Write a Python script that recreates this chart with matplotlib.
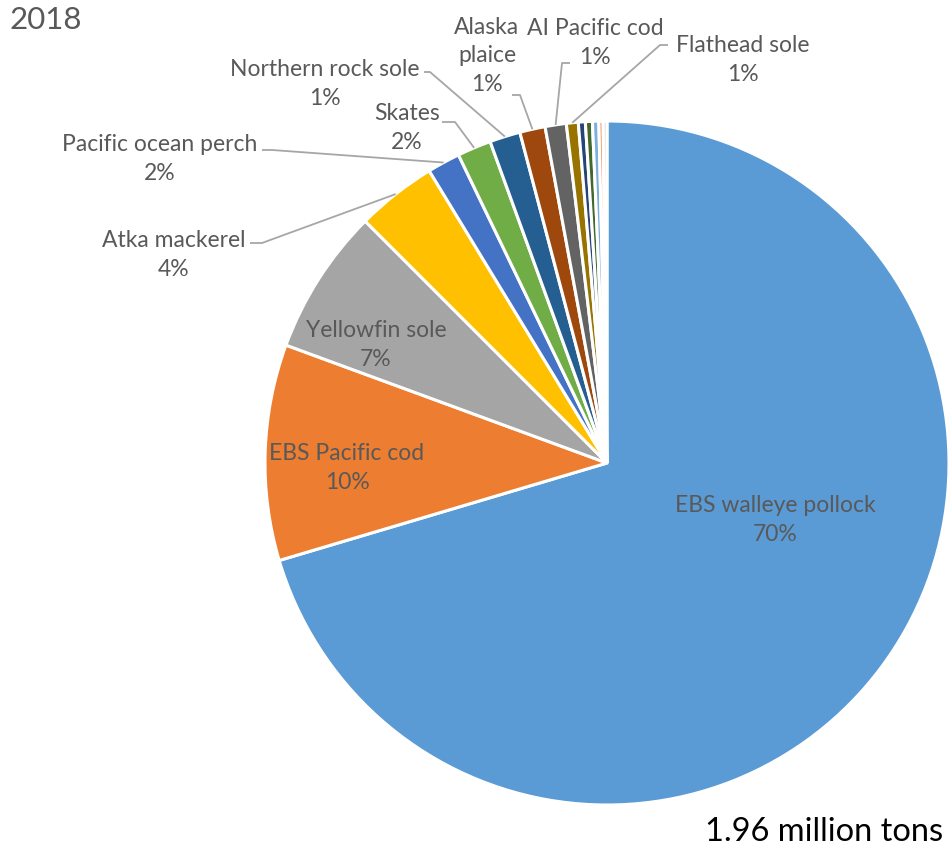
import numpy as np
import matplotlib.pyplot as plt

plt.rcParams['font.family'] = ['Lato', 'DejaVu Sans']

species = ['EBS walleye pollock', 'EBS Pacific cod', 'Yellowfin sole', 'Atka mackerel',
           'Pacific ocean perch', 'Skates', 'Northern rock sole', 'Alaska\nplaice',
           'AI Pacific cod', 'Flathead sole', 'Other 1', 'Other 2', 'Other 3', 'Other 4', 'Other 5']
share = [70.4, 10.2, 6.9, 3.8, 1.55, 1.6, 1.45, 1.2, 1.0, 0.56, 0.33, 0.33, 0.3, 0.2, 0.18]
colors = ['#5B9BD5', '#ED7D31', '#A5A5A5', '#FFC000', '#4472C4', '#70AD47', '#255E91',
          '#9E480E', '#636363', '#997300', '#264478', '#43682B', '#7CAFDD', '#F1975A', '#D9D9D9']

W, H = 949, 852
cx, cy, R = 607, 463, 342
txt = '#595959'
fs = 16.5
ls = 1.42


def P(x, y):
    # pixel position (from top-left) -> data coords
    return (x, H - y)


fig = plt.figure(figsize=(W / 100, H / 100), dpi=100)
ax = fig.add_axes([0, 0, 1, 1])

wedges, _ = ax.pie(share, colors=colors, startangle=90, counterclock=False,
                   center=P(cx, cy), radius=R, frame=True,
                   wedgeprops=dict(edgecolor='white', linewidth=2.2))
ax.set_xlim(0, W)
ax.set_ylim(0, H)
ax.set_aspect('equal')
ax.axis('off')

total = sum(share)
pct = ['%.0f%%' % (v / total * 100) for v in share]

# labels inside the big slices
inside = {0: (775, 520), 1: (347, 468), 2: (376, 345)}
for i, (x, y) in inside.items():
    ax.text(*P(x, y), species[i] + '\n' + pct[i], ha='center', va='center',
            fontsize=fs, color=txt, linespacing=ls)

# outside labels: text centre, then leader path start and elbow (pixels)
outside = {
    3: ((174, 255), [(250, 243), (262, 243)]),
    4: ((160, 159), [(262, 150), (272, 150)]),
    5: ((407, 128), [(442, 122), (455, 122)]),
    6: ((325, 84), [(424, 72), (430, 72)]),
    7: ((487, 56), [(512, 95), (520, 95)]),
    8: ((595, 43), [(570, 63), (562, 63)]),
    9: ((743, 60), [(668, 45), (660, 45)]),
}
for i, ((x, y), path) in outside.items():
    ax.text(*P(x, y), species[i] + '\n' + pct[i], ha='center', va='center',
            fontsize=fs, color=txt, linespacing=ls)
    w = wedges[i]
    mid = np.deg2rad((w.theta1 + w.theta2) / 2)
    ex = w.center[0] + R * np.cos(mid)
    ey = w.center[1] + R * np.sin(mid)
    xs = [p[0] for p in path] + [ex]
    ys = [H - p[1] for p in path] + [ey]
    ax.plot(xs, ys, color='#A6A6A6', lw=1.3, solid_capstyle='butt')

ax.text(*P(10, 20), '2018', ha='left', va='center', fontsize=22.5, color=txt)
ax.text(*P(943, 832), '1.96 million tons', ha='right', va='center', fontsize=23.5, color='black')

fig.savefig('out.png', dpi=100)
